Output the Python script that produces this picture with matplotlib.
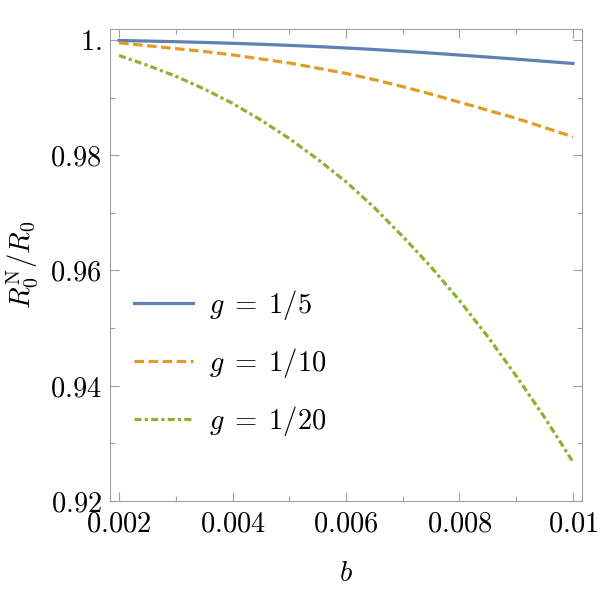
import matplotlib
matplotlib.use("Agg")
import matplotlib.pyplot as plt
from matplotlib.ticker import MultipleLocator, FixedLocator

plt.rcParams['mathtext.fontset'] = 'cm'
plt.rcParams['font.family'] = 'serif'

# values
b = [0.002, 0.0025, 0.003, 0.0035, 0.004, 0.0045, 0.005, 0.0055, 0.006,
     0.0065, 0.007, 0.0075, 0.008, 0.0085, 0.009, 0.0095, 0.01]
ratio_g5 = [0.99990, 0.99981, 0.99970, 0.99957, 0.99942, 0.99925, 0.99906, 0.99885, 0.99861,
            0.99834, 0.99804, 0.99772, 0.99738, 0.99703, 0.99667, 0.99630, 0.99592]
ratio_g10 = [0.9995, 0.9990, 0.9985, 0.9980, 0.9974, 0.9967, 0.9960, 0.9951, 0.9942,
             0.9931, 0.9919, 0.9906, 0.9892, 0.9878, 0.9864, 0.9848, 0.9832]
ratio_g20 = [0.9973, 0.9956, 0.9937, 0.9915, 0.9890, 0.9861, 0.9829, 0.9793, 0.9754,
             0.9709, 0.9659, 0.9606, 0.9548, 0.9485, 0.9417, 0.9345, 0.9268]
labels = [r'$g\;=\;1/5$', r'$g\;=\;1/10$', r'$g\;=\;1/20$']

xticks = [0.002, 0.004, 0.006, 0.008, 0.01]
xtick_labels = [r'$0.002$', r'$0.004$', r'$0.006$', r'$0.008$', r'$0.01$']
yticks = [0.92, 0.94, 0.96, 0.98, 1.0]
ytick_labels = [r'$0.92$', r'$0.94$', r'$0.96$', r'$0.98$', r'$1.$']

fig = plt.figure(figsize=(6, 5.96), dpi=100)
ax = fig.add_axes([110/600, 95/596, 472/600, 472/596])

lw = 2.3
ax.plot(b, ratio_g5, color='#5E81B5', lw=lw, label=labels[0])
ax.plot(b, ratio_g10, color='#E19C24', lw=lw, dashes=(3.0, 1.4), label=labels[1])
ax.plot(b, ratio_g20, color='#8FB032', lw=lw, dashes=(2.2, 1.0, 1.0, 1.0), label=labels[2])

ax.set_xlim(0.00184, 0.01016)
ax.set_ylim(0.92, 1.0019)

ax.xaxis.set_major_locator(FixedLocator(xticks))
ax.set_xticklabels(xtick_labels)
ax.xaxis.set_minor_locator(MultipleLocator(0.001))
ax.yaxis.set_major_locator(FixedLocator(yticks))
ax.set_yticklabels(ytick_labels)
ax.yaxis.set_minor_locator(MultipleLocator(0.01))

frame_col = '#a0a0a0'
for s in ax.spines.values():
    s.set_color(frame_col)
    s.set_linewidth(0.8)
ax.tick_params(which='both', direction='in', top=True, right=True,
               color=frame_col, width=0.8, labelsize=20.5)
ax.tick_params(which='major', length=6.5)
ax.tick_params(which='minor', length=3.5)
ax.tick_params(axis='x', which='major', pad=7)
ax.tick_params(axis='y', which='major', pad=6)

ax.set_xlabel(r'$b$', fontsize=20.5, labelpad=16)
ax.set_ylabel(r'$R_0^{\mathrm{N}}/R_0$', fontsize=20.5, labelpad=7)

ax.legend(loc='center left', bbox_to_anchor=(0.05, 0.292), frameon=False,
          fontsize=20.5, handlelength=2.1, handletextpad=0.55, labelspacing=0.85,
          borderpad=0, borderaxespad=0)

fig.savefig('out.png', dpi=100)
